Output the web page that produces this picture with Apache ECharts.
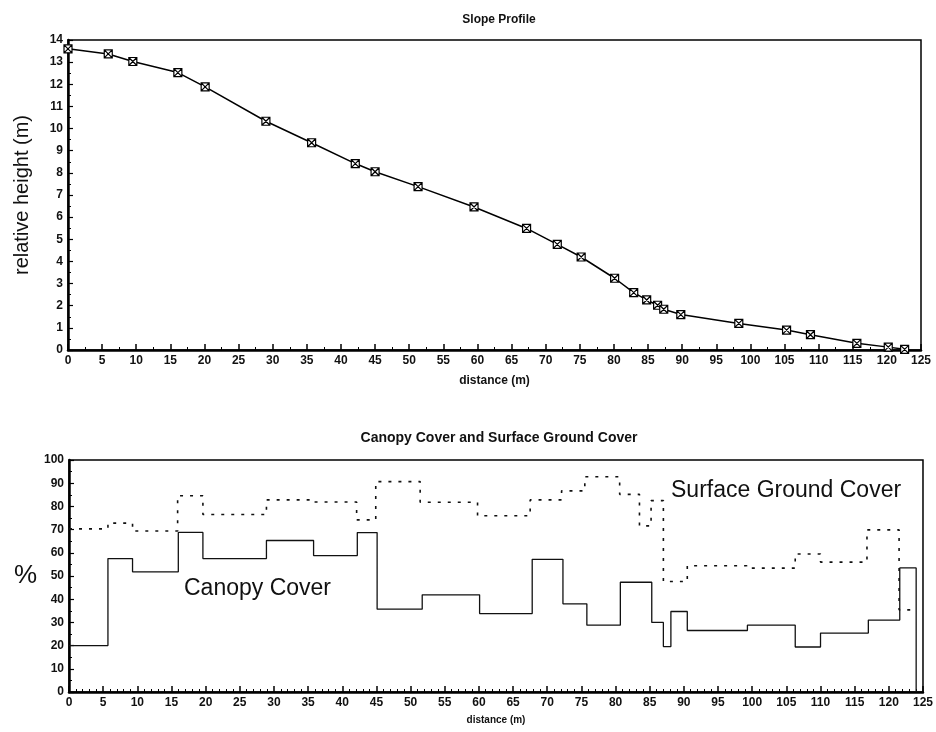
<!DOCTYPE html>
<html>
<head>
<meta charset="utf-8">
<script src="https://cdn.jsdelivr.net/npm/echarts@6/dist/echarts.min.js"></script>
<style>
  html, body { margin: 0; padding: 0; background: #fff; }
  #chart { width: 936px; height: 732px; }
</style>
</head>
<body>
<div id="chart"></div>
<script>
// slope profile survey points
var profileDist = [0, 5.9, 9.5, 16.1, 20.1, 29.0, 35.7, 42.1, 45.0, 51.3, 59.5, 67.2, 71.7, 75.2, 80.1, 82.9, 84.8, 86.4, 87.3, 89.8, 98.3, 105.3, 108.8, 115.6, 120.2, 122.6];
var profileHeight = [13.6, 13.37, 13.03, 12.53, 11.88, 10.33, 9.36, 8.42, 8.05, 7.38, 6.46, 5.49, 4.77, 4.2, 3.24, 2.59, 2.26, 2.02, 1.84, 1.6, 1.2, 0.9, 0.69, 0.3, 0.13, 0.03];

// canopy cover, value holds from each start distance to the next one
var canopyStart = [0, 5.7, 9.3, 16.0, 19.6, 28.9, 35.8, 42.2, 45.1, 51.7, 60.1, 67.8, 72.3, 75.8, 80.7, 85.3, 87.0, 88.1, 90.5, 99.3, 106.3, 110.0, 117.0, 121.6, 124.0];
var canopyValue = [20, 57.5, 51.8, 68.8, 57.5, 65.3, 58.8, 68.7, 35.7, 41.9, 33.8, 57.2, 38.0, 28.8, 47.3, 30.0, 19.6, 34.7, 26.5, 28.8, 19.4, 25.4, 31.0, 53.5, 0];

// surface ground cover
var groundStart = [0, 5.7, 9.3, 15.9, 19.6, 28.9, 35.6, 42.1, 44.9, 51.4, 59.8, 67.5, 72.1, 75.5, 80.6, 83.5, 85.2, 87.0, 90.5, 99.2, 106.3, 110.0, 116.8, 121.5, 123.7];
var groundValue = [70.3, 72.8, 69.4, 84.6, 76.5, 82.8, 81.9, 74.2, 90.7, 81.8, 76.0, 82.8, 86.7, 92.8, 85.2, 71.6, 82.5, 47.6, 54.4, 53.4, 59.5, 56.0, 69.9, 35.4, 35.4];

var distTicks = { min: 0, max: 125, interval: 5 };

function pairs(xs, ys) {
  var out = [];
  for (var i = 0; i < xs.length; i++) out.push([xs[i], ys[i]]);
  return out;
}

var font = '"Liberation Sans", Arial, sans-serif';
var tickLabel = { color: '#111', fontFamily: font, fontWeight: 'bold', fontSize: 12, margin: 5 };

function xAxisCfg(idx, name, nameSize, gap, minorSplit) {
  return {
    type: 'value', gridIndex: idx, min: distTicks.min, max: distTicks.max, interval: distTicks.interval,
    name: name, nameLocation: 'middle', nameGap: gap,
    nameTextStyle: { color: '#111', fontFamily: font, fontWeight: 'bold', fontSize: nameSize },
    axisLine: { onZero: false, lineStyle: { color: '#000', width: 2.5 } },
    axisTick: { inside: true, length: 6, lineStyle: { color: '#000', width: 1.5 } },
    minorTick: { show: true, splitNumber: minorSplit, length: 3, lineStyle: { color: '#000' } },
    axisLabel: tickLabel,
    splitLine: { show: false }
  };
}

function yAxisCfg(idx, max, interval) {
  return {
    type: 'value', gridIndex: idx, min: 0, max: max, interval: interval,
    axisLine: { onZero: false, lineStyle: { color: '#000', width: 2.5 } },
    axisTick: { inside: true, length: 5, lineStyle: { color: '#000', width: 1.2 } },
    minorTick: { show: true, splitNumber: 2, length: 3, lineStyle: { color: '#000' } },
    axisLabel: tickLabel,
    splitLine: { show: false }
  };
}

var yTop = yAxisCfg(0, 14, 1);
yTop.name = 'relative height (m)';
yTop.nameLocation = 'middle';
yTop.nameGap = 36;
yTop.nameTextStyle = { color: '#111', fontFamily: font, fontSize: 20 };

var yBottom = yAxisCfg(1, 100, 10);
yBottom.name = '%';
yBottom.nameLocation = 'middle';
yBottom.nameGap = 32;
yBottom.nameRotate = 0;
yBottom.nameTextStyle = { color: '#111', fontFamily: font, fontSize: 26 };

var chart = echarts.init(document.getElementById('chart'));
chart.setOption({
  backgroundColor: '#fff',
  animation: false,
  title: [
    { text: 'Slope Profile', left: 494, top: 9, textAlign: 'center',
      textStyle: { fontFamily: font, fontWeight: 'bold', fontSize: 12, color: '#111' } },
    { text: 'Canopy Cover and Surface Ground Cover', left: 494, top: 426, textAlign: 'center',
      textStyle: { fontFamily: font, fontWeight: 'bold', fontSize: 14, color: '#111' } }
  ],
  grid: [
    { left: 68, top: 40, width: 853, height: 310, show: true, borderColor: '#000', borderWidth: 1.5, backgroundColor: 'transparent' },
    { left: 69, top: 460, width: 858, height: 232, show: true, borderColor: '#000', borderWidth: 1.5, backgroundColor: 'transparent' }
  ],
  xAxis: [
    xAxisCfg(0, 'distance (m)', 12, 25, 2),
    xAxisCfg(1, 'distance (m)', 10, 23, 5)
  ],
  yAxis: [yTop, yBottom],
  graphic: [
    { type: 'text', left: 184, top: 577,
      style: { text: 'Canopy Cover', fontFamily: font, fontSize: 23, fill: '#111' } },
    { type: 'text', left: 671, top: 479,
      style: { text: 'Surface Ground Cover', fontFamily: font, fontSize: 23, fill: '#111' } }
  ],
  series: [
    {
      name: 'profile', type: 'line', xAxisIndex: 0, yAxisIndex: 0,
      data: pairs(profileDist, profileHeight),
      symbol: 'path://M0,0L10,0L10,10L0,10Z M0,0L10,10 M10,0L0,10',
      symbolSize: 8,
      itemStyle: { color: '#fff', borderColor: '#000', borderWidth: 1.2 },
      lineStyle: { color: '#000', width: 1.5 }
    },
    {
      name: 'Canopy Cover', type: 'line', xAxisIndex: 1, yAxisIndex: 1,
      step: 'end', showSymbol: false,
      data: pairs(canopyStart, canopyValue),
      lineStyle: { color: '#111', width: 1.3 }
    },
    {
      name: 'Surface Ground Cover', type: 'line', xAxisIndex: 1, yAxisIndex: 1,
      step: 'end', showSymbol: false,
      data: pairs(groundStart, groundValue),
      lineStyle: { color: '#111', width: 1.6, type: [3, 7] }
    }
  ]
});
</script>
</body>
</html>
